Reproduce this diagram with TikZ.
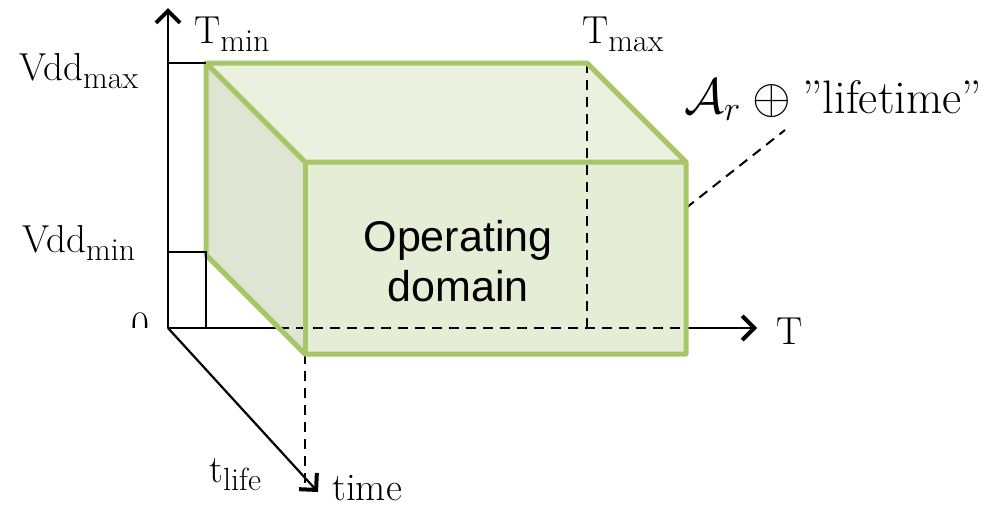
\documentclass[tikz,border=0pt]{standalone}
\usepackage{fontspec}
\newfontfamily\sansfont{Liberation Sans}
\usetikzlibrary{arrows.meta}

\definecolor{edgegreen}{RGB}{168,198,104}
\definecolor{frontfill}{RGB}{229,237,215}
\definecolor{topfill}{RGB}{235,241,223}
\definecolor{sidefill}{RGB}{224,229,211}

% main label text with a lowered, slightly smaller subscript
\newcommand\lblsub[2]{#1\raisebox{-4pt}{\fontsize{16}{17}\selectfont #2}}

\tikzset{
  axisline/.style={line width=1.1pt, black},
  axisarrow/.style={axisline, -{Straight Barb[length=6pt,width=12pt,line width=2pt]}},
  hidden/.style={line width=1pt, black, dash pattern=on 5pt off 3.5pt},
  boxedge/.style={line width=2.5pt, edgegreen, line join=round},
  lbl/.style={inner sep=0pt, anchor=base west, font=\fontsize{19.5}{21}\selectfont},
}

\begin{document}
\begin{tikzpicture}[x=0.5pt, y=-0.5pt]
\useasboundingbox (0,0) rectangle (989,505);

% axes origin and tips
\coordinate (O) at (168,328);
\coordinate (Vtip) at (168,8);
\coordinate (Ttip) at (757,328);
\coordinate (Ltip) at (318,492);

% corners of the operating domain box
\coordinate (B1) at (206,63);
\coordinate (B2) at (587,63);
\coordinate (B4) at (206,255);
\coordinate (F1) at (305,162);
\coordinate (F2) at (686,162);
\coordinate (F3) at (686,354);
\coordinate (F4) at (305,354);

% helper points on the axes and edges
\coordinate (Tin) at (279,328);
\coordinate (Tout) at (686,328);
\coordinate (Tback) at (587,328);
\coordinate (Vmaxtick) at (168,63);
\coordinate (Vmintick) at (168,252);
\coordinate (Vminpt) at (206,252);
\coordinate (Tminfoot) at (206,328);
\coordinate (Lfoot) at (305,485);
\coordinate (Aedge) at (686,208);
\coordinate (Aend) at (785,130);

% faces of the box
\fill[sidefill] (B1) -- (F1) -- (F4) -- (B4) -- cycle;
\fill[topfill] (B1) -- (B2) -- (F2) -- (F1) -- cycle;
\fill[frontfill] (F1) -- (F2) -- (F3) -- (F4) -- cycle;

% hidden lines
\draw[hidden] (Tin) -- (Tout);
\draw[hidden] (B2) -- (Tback);
\draw[hidden] (F4) -- (Lfoot);
\draw[hidden] (Aedge) -- (Aend);

% axes
\draw[axisarrow] (O) -- (Vtip);
\draw[axisline] (O) -- (Tin);
\draw[axisarrow] (Tout) -- (Ttip);
\draw[axisarrow] (O) -- (Ltip);

% box edges
\draw[boxedge] (B1) -- (B2) -- (F2) -- (F3) -- (F4) -- (B4) -- cycle;
\draw[boxedge] (B1) -- (F1) -- (F2);
\draw[boxedge] (F1) -- (F4);

% ticks
\draw[axisline] (Vmaxtick) -- (B1);
\draw[axisline] (Vmintick) -- (Vminpt) -- (Tminfoot);

% labels
\node[lbl] (vddmax) at (19,80) {\lblsub{Vdd}{max}};
\node[lbl] (vddmin) at (22,252) {\lblsub{Vdd}{min}};
\node[lbl] (tmin) at (194,43) {\lblsub{T}{min}};
\node[lbl] (tmax) at (582,43) {\lblsub{T}{max}};
\node[lbl] (tlife) at (209,482) {\lblsub{t}{life}};
\node[lbl] (timelbl) at (332,500) {time};
\node[lbl] (tlbl) at (776,344) {T};
\begin{scope}
  \clip (100,300) rectangle (160,327);
  \node[lbl] (zero) at (131,338) {0};
\end{scope}
\node[inner sep=0pt, anchor=base west, font=\fontsize{23.5}{26}\selectfont]
  (arlbl) at (684,113) {$\mathcal{A}_r \oplus{}$''lifetime''};
\node[inner sep=0pt, align=center, font=\sansfont\fontsize{21.5}{25}\selectfont]
  (domain) at (458,261) {Operating\\domain};
\end{tikzpicture}
\end{document}
